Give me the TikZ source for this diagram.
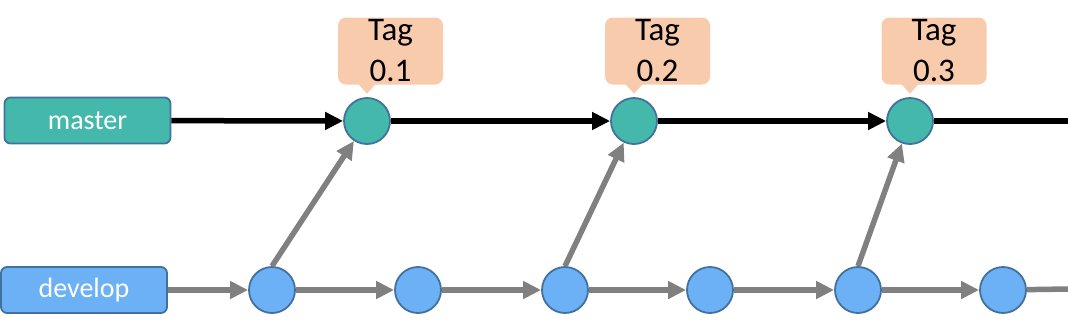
\documentclass[tikz,border=0pt]{standalone}
\usepackage{fontspec}
\setmainfont{Carlito}
\usetikzlibrary{arrows.meta}

\definecolor{masterteal}{HTML}{45B8AC}
\definecolor{developblue}{HTML}{6CB0F5}
\definecolor{edgeblue}{HTML}{41719C}
\definecolor{tagpeach}{HTML}{F8CBAD}
\definecolor{linegray}{HTML}{808080}

\begin{document}
\begin{tikzpicture}[x=1pt,y=-1pt,
    branch/.style={draw=edgeblue,line width=1.8pt,rounded corners=6pt,
        minimum width=166pt,minimum height=46pt,text=white,
        font=\fontsize{28}{32}\selectfont},
    commit/.style={circle,draw=edgeblue,line width=1.8pt,minimum size=46pt,inner sep=0pt},
    tag/.style={fill=tagpeach,rounded corners=8pt,minimum width=105pt,minimum height=67pt,
        inner sep=0pt,align=center,font=\fontsize{33}{41}\selectfont},
    mline/.style={line width=5.5pt,black},
    dline/.style={line width=5.5pt,linegray},
    marrow/.style={mline,-{Triangle[length=18pt,width=17pt]}},
    darrow/.style={dline,-{Triangle[length=18pt,width=17pt]}}]

\useasboundingbox (0,0) rectangle (1068,325);

% ===== Branches =====
\node[branch,fill=masterteal] (master) at (87.5,120.5) {master};
\node[branch,fill=developblue] (develop) at (84,290) {develop};

% ===== Commits =====
\node[commit,fill=masterteal] (m1) at (367,121) {};
\node[commit,fill=masterteal] (m2) at (634,121) {};
\node[commit,fill=masterteal] (m3) at (910,121) {};

\foreach \i/\x in {1/272,2/418,3/565,4/710,5/858,6/1003} {
    \node[commit,fill=developblue] (d\i) at (\x,290) {};
}

\coordinate (mend) at (1068,121);
\coordinate (dend) at (1068,289);

% ===== Master line =====
\draw[marrow] (master) -- (m1);
\draw[marrow] (m1) -- (m2);
\draw[marrow] (m2) -- (m3);
\draw[mline] (m3) -- (mend);

% ===== Develop line =====
\draw[darrow] (develop) -- (d1);
\foreach \a/\b in {1/2,2/3,3/4,4/5,5/6} {
    \draw[darrow] (d\a) -- (d\b);
}
\draw[dline] (d6) -- (dend);

% ===== Merges =====
\draw[darrow] (d1.north) -- (m1);
\draw[darrow] (d3.north) -- (m2);
\draw[darrow] (d5.north) -- (m3);

% ===== Tags =====
\foreach \i/\x in {1/390.5,2/657.5,3/934} {
    \node[tag] (t\i) at (\x,51) {Tag\\0.\i};
    \fill[tagpeach] (t\i.south -| m\i) ++(-9,-1) -- ++(9,10) -- ++(9,-10) -- cycle;
}

\end{tikzpicture}
\end{document}
